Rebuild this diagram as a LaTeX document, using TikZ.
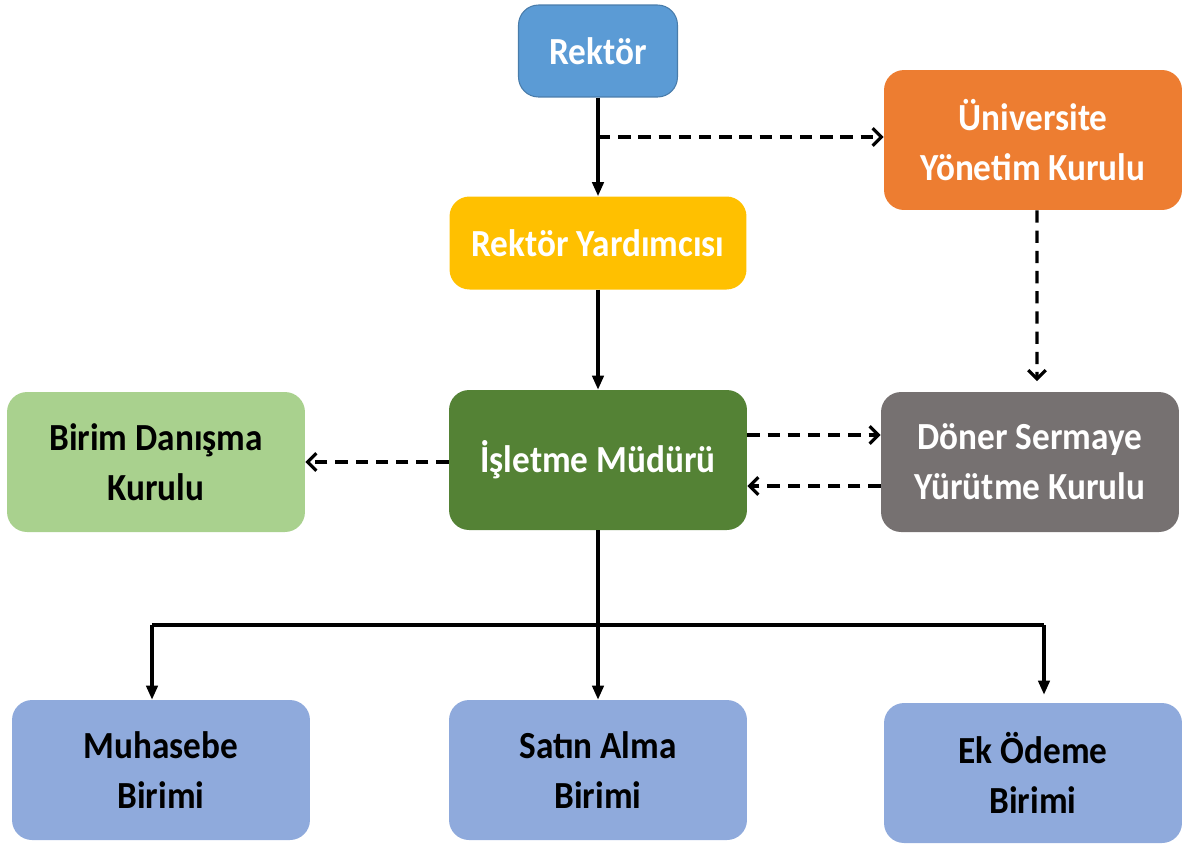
\documentclass[tikz,border=0pt]{standalone}
\usepackage{fontspec}
\setmainfont{Carlito}[FakeStretch=0.92]
\usetikzlibrary{arrows.meta}
\definecolor{rblue}{HTML}{5B9BD5}
\definecolor{rorange}{HTML}{ED7D31}
\definecolor{ryellow}{HTML}{FFC000}
\definecolor{lgreen}{HTML}{A9D18E}
\definecolor{dgreen}{HTML}{548235}
\definecolor{rgray}{HTML}{767171}
\definecolor{lblue}{HTML}{8FAADC}
\begin{document}
\begin{tikzpicture}[x=0.02cm,y=-0.02cm,
  box/.style={rounded corners=0.4cm,minimum width=5.96cm,minimum height=2.8cm,
    align=center,text=white,font=\fontsize{21.8}{28.5}\selectfont\bfseries},
  dark/.style={box,text=black},
  solidarr/.style={line width=1.8pt,-{Triangle[length=8pt,width=6.5pt]}},
  dasharr/.style={line width=1.8pt,dash pattern=on 7pt off 4.5pt,
    -{Straight Barb[length=5pt,width=10pt,line width=1.8pt]}}]
\useasboundingbox (0,0) rectangle (1186,843);
% boxes
\node[box,fill=rblue,draw=rblue!80!black,line width=0.6pt,minimum width=3.18cm,minimum height=1.84cm] (rektor) at (598,51) {Rektör};
\node[box,fill=ryellow,minimum width=5.94cm,minimum height=1.86cm] (yard) at (598,243) {Rektör Yardımcısı};
\node[box,fill=rorange] (uyk) at (1033,140) {Üniversite\\Yönetim Kurulu};
\node[box,fill=dgreen] (isl) at (598,460) {İşletme Müdürü};
\node[dark,fill=lgreen] (bdk) at (156,462) {Birim Danışma\\Kurulu};
\node[box,fill=rgray] (dsyk) at (1030,462) {Döner Sermaye\\Yürütme Kurulu};
\node[dark,fill=lblue] (muh) at (161,770) {Muhasebe\\Birimi};
\node[dark,fill=lblue] (satin) at (598,770) {Satın Alma\\Birimi};
\node[dark,fill=lblue] (ekodeme) at (1033,773) {Ek Ödeme\\Birimi};
% connectors
\draw[solidarr] (rektor.south) -- (yard.north);
\coordinate (j1) at (598,137);
\draw[dasharr] (j1) -- (j1 -| uyk.west);
\draw[dasharr,shorten >=6pt] ([xshift=0.08cm]uyk.south) -- ([xshift=0.14cm]dsyk.north);
\draw[solidarr] (yard.south) -- (isl.north);
\draw[dasharr] ([yshift=-0.04cm]isl.west) -- ([yshift=-0.04cm]isl.west -| bdk.east);
\draw[dasharr] ([yshift=0.5cm]isl.east) -- ([yshift=0.5cm]isl.east -| dsyk.west);
\draw[dasharr] ([yshift=-0.48cm]dsyk.west) -- ([yshift=-0.48cm]dsyk.west -| isl.east);
% bottom tree
\coordinate (bus) at (598,625);
\coordinate (busl) at (152,625);
\coordinate (busr) at (1044,625);
\draw[line width=1.8pt] (isl.south) -- (bus);
\draw[line width=2.5pt] (busl) -- (busr);
\draw[solidarr] (busl) -- (busl |- muh.north);
\draw[solidarr] (bus) -- (satin.north);
\draw[solidarr] (busr) -- ([yshift=0.16cm]busr |- ekodeme.north);
\end{tikzpicture}
\end{document}
